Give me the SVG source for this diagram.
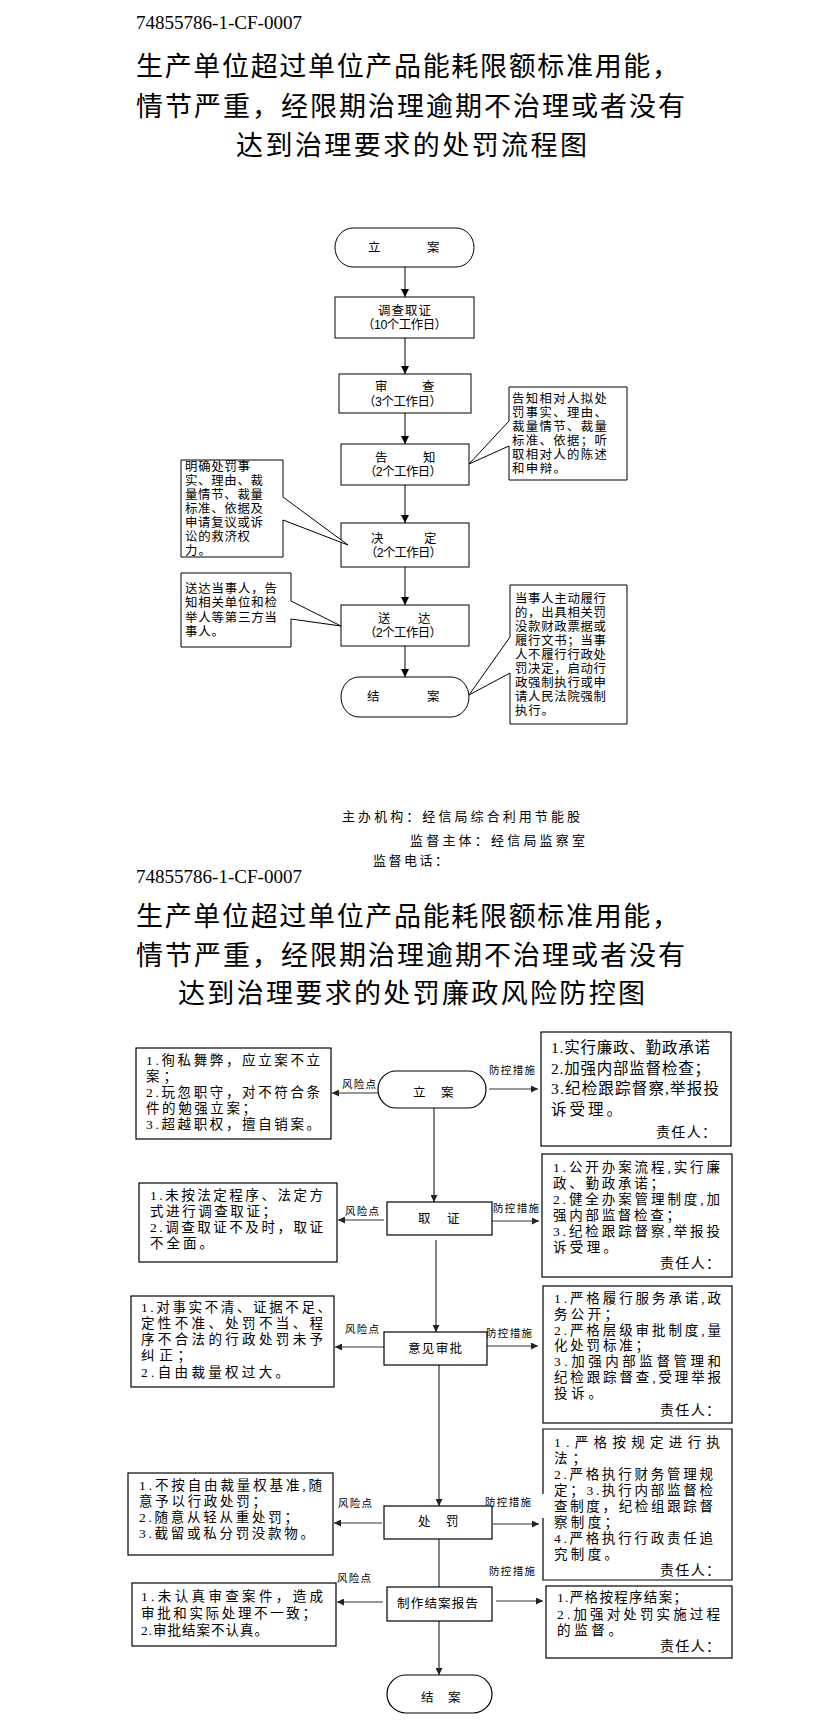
<svg xmlns="http://www.w3.org/2000/svg" width="823" height="1729" viewBox="0 0 823 1729">
<style>
text{font-family:"Noto Sans CJK SC","Noto Sans",sans-serif;fill:#000}
.id{font-family:"Liberation Serif",serif;font-size:19px}
.ttl{font-size:27px}
.f13{font-family:"Liberation Sans","Noto Sans CJK SC",sans-serif;font-size:12.4px}
.ft{font-size:13px}
.s2{font-family:"Liberation Serif","Noto Sans CJK SC",sans-serif}
.b2{font-size:13.5px}
.big{font-size:15.5px}
.rp{font-size:14px}
.lb{font-size:10.5px}
.c2{font-size:12.5px}
.box{fill:#fff;stroke:#000;stroke-width:1}
.box2{fill:#fff;stroke:#000;stroke-width:1.2}
.ln{stroke:#000;stroke-width:1;fill:none}
.ln2{stroke:#333;stroke-width:1.2;fill:none}
</style>
<defs>
<marker id="a1" markerWidth="8" markerHeight="8" refX="8" refY="4" orient="auto" markerUnits="userSpaceOnUse"><path d="M0,0 L8,4 L0,8 z" fill="#000"/></marker>
<marker id="a2" markerWidth="7" markerHeight="7" refX="7" refY="3.5" orient="auto" markerUnits="userSpaceOnUse"><path d="M0,0 L7,3.5 L0,7 z" fill="#222"/></marker>
</defs>
<rect width="823" height="1729" fill="#fff"/>

<g id="header1">
<text class="id" x="136" y="28.8" textLength="166" lengthAdjust="spacingAndGlyphs">74855786-1-CF-0007</text>
<text class="ttl" x="136" y="76.2" textLength="543" lengthAdjust="spacing">生产单位超过单位产品能耗限额标准用能，</text>
<text class="ttl" x="136" y="116.4" textLength="549" lengthAdjust="spacing">情节严重，经限期治理逾期不治理或者没有</text>
<text class="ttl" x="236" y="154.7" textLength="351" lengthAdjust="spacing">达到治理要求的处罚流程图</text>
</g>

<g id="connectors1">
<line class="ln" x1="405" y1="267" x2="405" y2="297" marker-end="url(#a1)"/>
<line class="ln" x1="405" y1="338" x2="405" y2="374" marker-end="url(#a1)"/>
<line class="ln" x1="405" y1="413" x2="405" y2="444" marker-end="url(#a1)"/>
<line class="ln" x1="405" y1="485" x2="405" y2="523" marker-end="url(#a1)"/>
<line class="ln" x1="405" y1="567" x2="405" y2="605" marker-end="url(#a1)"/>
<line class="ln" x1="405" y1="646" x2="405" y2="677" marker-end="url(#a1)"/>
</g>

<g id="n1-start">
<rect class="box" x="335" y="228" width="139" height="39" rx="18" ry="19.5"/>
<text class="f13" x="368 427" y="252">立案</text>
</g>
<g id="n1-investigate">
<rect class="box" x="335" y="297" width="139" height="41"/>
<text class="f13" x="378" y="315" textLength="53" lengthAdjust="spacing">调查取证</text>
<text class="f13" x="362" y="329" textLength="85" lengthAdjust="spacing">（10个工作日）</text>
</g>
<g id="n1-review">
<rect class="box" x="339" y="374" width="132" height="39"/>
<text class="f13" x="375 422" y="391">审查</text>
<text class="f13" x="363" y="405.5" textLength="79" lengthAdjust="spacing">（3个工作日）</text>
</g>
<g id="n1-notify">
<rect class="box" x="341" y="444" width="128" height="41"/>
<text class="f13" x="375 423" y="462">告知</text>
<text class="f13" x="364" y="476" textLength="78" lengthAdjust="spacing">（2个工作日）</text>
</g>
<g id="n1-decide">
<rect class="box" x="341" y="523" width="128" height="44"/>
<text class="f13" x="371 424" y="543">决定</text>
<text class="f13" x="365" y="557" textLength="77" lengthAdjust="spacing">（2个工作日）</text>
</g>
<g id="n1-deliver">
<rect class="box" x="341" y="605" width="128" height="41"/>
<text class="f13" x="378 418" y="622.5">送达</text>
<text class="f13" x="364" y="636.5" textLength="78" lengthAdjust="spacing">（2个工作日）</text>
</g>
<g id="n1-end">
<rect class="box" x="341" y="677" width="128" height="40" rx="18" ry="20"/>
<text class="f13" x="367 427" y="700.5">结案</text>
</g>

<g id="note-notify">
<path class="box" d="M509,421 L469,464 L509,446 L509,480 L627,480 L627,387 L509,387 Z"/>
<text class="f13" x="512" y="402.5" textLength="95" lengthAdjust="spacing">告知相对人拟处</text>
<text class="f13" x="512" y="416.5" textLength="95" lengthAdjust="spacing">罚事实、理由、</text>
<text class="f13" x="512" y="430.5" textLength="95" lengthAdjust="spacing">裁量情节、裁量</text>
<text class="f13" x="512" y="444.5" textLength="95" lengthAdjust="spacing">标准、依据；听</text>
<text class="f13" x="512" y="458.5" textLength="95" lengthAdjust="spacing">取相对人的陈述</text>
<text class="f13" x="512" y="472.5" textLength="54" lengthAdjust="spacing">和申辩。</text>
</g>
<g id="note-decide">
<path class="box" d="M283,497 L348,545 L283,520 L283,557 L181,557 L181,460 L283,460 Z"/>
<text class="f13" x="185" y="470.5" textLength="65" lengthAdjust="spacing">明确处罚事</text>
<text class="f13" x="185" y="484.5" textLength="78" lengthAdjust="spacing">实、理由、裁</text>
<text class="f13" x="185" y="498.5" textLength="78" lengthAdjust="spacing">量情节、裁量</text>
<text class="f13" x="185" y="512.5" textLength="78" lengthAdjust="spacing">标准、依据及</text>
<text class="f13" x="185" y="526.5" textLength="78" lengthAdjust="spacing">申请复议或诉</text>
<text class="f13" x="185" y="540.5" textLength="65" lengthAdjust="spacing">讼的救济权</text>
<text class="f13" x="185" y="554.5" textLength="26" lengthAdjust="spacing">力。</text>
</g>
<g id="note-deliver">
<path class="box" d="M291,601 L341,626 L291,619 L291,647 L181,647 L181,573 L291,573 Z"/>
<text class="f13" x="185" y="592.5" textLength="92" lengthAdjust="spacing">送达当事人，告</text>
<text class="f13" x="185" y="607" textLength="92" lengthAdjust="spacing">知相关单位和检</text>
<text class="f13" x="185" y="621.5" textLength="92" lengthAdjust="spacing">举人等第三方当</text>
<text class="f13" x="185" y="635.5" textLength="39" lengthAdjust="spacing">事人。</text>
</g>
<g id="note-end">
<path class="box" d="M510,637 L469,695 L510,673 L510,724 L627,724 L627,585 L510,585 Z"/>
<text class="f13" x="515" y="602.5" textLength="91" lengthAdjust="spacing">当事人主动履行</text>
<text class="f13" x="515" y="616.5" textLength="91" lengthAdjust="spacing">的，出具相关罚</text>
<text class="f13" x="515" y="630.5" textLength="91" lengthAdjust="spacing">没款财政票据或</text>
<text class="f13" x="515" y="644.5" textLength="91" lengthAdjust="spacing">履行文书；当事</text>
<text class="f13" x="515" y="658.5" textLength="91" lengthAdjust="spacing">人不履行行政处</text>
<text class="f13" x="515" y="672.5" textLength="91" lengthAdjust="spacing">罚决定，启动行</text>
<text class="f13" x="515" y="686.5" textLength="91" lengthAdjust="spacing">政强制执行或申</text>
<text class="f13" x="515" y="700.5" textLength="91" lengthAdjust="spacing">请人民法院强制</text>
<text class="f13" x="515" y="714.5" textLength="39" lengthAdjust="spacing">执行。</text>
</g>

<g id="footer">
<text class="ft" x="342" y="820.7" textLength="238" lengthAdjust="spacing">主办机构：经信局综合利用节能股</text>
<text class="ft" x="410" y="844.7" textLength="175" lengthAdjust="spacing">监督主体：经信局监察室</text>
<text class="ft" x="373" y="865.2" textLength="75" lengthAdjust="spacing">监督电话：</text>
</g>

<g id="header2">
<text class="id" x="136" y="883" textLength="166" lengthAdjust="spacingAndGlyphs">74855786-1-CF-0007</text>
<text class="ttl" x="136" y="925.7" textLength="543" lengthAdjust="spacing">生产单位超过单位产品能耗限额标准用能，</text>
<text class="ttl" x="136" y="964.7" textLength="549" lengthAdjust="spacing">情节严重，经限期治理逾期不治理或者没有</text>
<text class="ttl" x="178" y="1002.7" textLength="467" lengthAdjust="spacing">达到治理要求的处罚廉政风险防控图</text>
</g>

<g id="connectors2">
<line class="ln2" x1="434" y1="1108" x2="434" y2="1202" marker-end="url(#a2)"/>
<line class="ln2" x1="436" y1="1240" x2="436" y2="1332" marker-end="url(#a2)"/>
<line class="ln2" x1="439" y1="1365" x2="439" y2="1506" marker-end="url(#a2)"/>
<line class="ln2" x1="439" y1="1539" x2="439" y2="1587"/>
<line class="ln2" x1="439" y1="1621" x2="439" y2="1675" marker-end="url(#a2)"/>
<line class="ln2" x1="378" y1="1093" x2="332" y2="1093" marker-end="url(#a2)"/>
<line class="ln2" x1="489" y1="1089" x2="538" y2="1089" marker-end="url(#a2)"/>
<line class="ln2" x1="384" y1="1220" x2="338" y2="1220" marker-end="url(#a2)"/>
<line class="ln2" x1="492" y1="1221" x2="539" y2="1221" marker-end="url(#a2)"/>
<line class="ln2" x1="384" y1="1347" x2="335" y2="1347" marker-end="url(#a2)"/>
<line class="ln2" x1="487" y1="1346" x2="538" y2="1346" marker-end="url(#a2)"/>
<line class="ln2" x1="382" y1="1523" x2="334" y2="1523" marker-end="url(#a2)"/>
<line class="ln2" x1="493" y1="1524" x2="539" y2="1524" marker-end="url(#a2)"/>
<line class="ln2" x1="383" y1="1602" x2="337" y2="1602" marker-end="url(#a2)"/>
<line class="ln2" x1="496" y1="1601" x2="543" y2="1601" marker-end="url(#a2)"/>
<text class="s2 lb" x="342" y="1087.8" textLength="34" lengthAdjust="spacing">风险点</text>
<text class="s2 lb" x="489" y="1073.8" textLength="46" lengthAdjust="spacing">防控措施</text>
<text class="s2 lb" x="345" y="1214.8" textLength="34" lengthAdjust="spacing">风险点</text>
<text class="s2 lb" x="493" y="1211.8" textLength="46" lengthAdjust="spacing">防控措施</text>
<text class="s2 lb" x="345" y="1332.8" textLength="34" lengthAdjust="spacing">风险点</text>
<text class="s2 lb" x="486" y="1336.8" textLength="46" lengthAdjust="spacing">防控措施</text>
<text class="s2 lb" x="338" y="1506.8" textLength="34" lengthAdjust="spacing">风险点</text>
<text class="s2 lb" x="485" y="1505.8" textLength="46" lengthAdjust="spacing">防控措施</text>
<text class="s2 lb" x="337" y="1581.8" textLength="34" lengthAdjust="spacing">风险点</text>
<text class="s2 lb" x="489" y="1574.8" textLength="46" lengthAdjust="spacing">防控措施</text>
</g>

<g id="n2-start">
<rect class="box2" x="378" y="1071" width="108" height="37" rx="18" ry="18.5"/>
<text class="s2 c2" x="413 441" y="1096.5">立案</text>
</g>
<g id="n2-evidence">
<rect class="box2" x="387" y="1202" width="105" height="33"/>
<text class="s2 c2" x="418 447" y="1222.5">取证</text>
</g>
<g id="n2-approve">
<rect class="box2" x="384" y="1332" width="103" height="33"/>
<text class="s2 c2" x="408" y="1352.5" textLength="54" lengthAdjust="spacing">意见审批</text>
</g>
<g id="n2-penalty">
<rect class="box2" x="384" y="1506" width="108" height="33"/>
<text class="s2 c2" x="418 446" y="1525.5">处罚</text>
</g>
<g id="n2-report">
<rect class="box2" x="387" y="1587" width="105" height="34"/>
<text class="s2 c2" x="397" y="1607.5" textLength="81" lengthAdjust="spacing">制作结案报告</text>
</g>
<g id="n2-end">
<rect class="box2" x="387" y="1675" width="105" height="38" rx="19" ry="19"/>
<text class="s2 c2" x="421 448" y="1701.5">结案</text>
</g>

<g id="risk1">
<rect class="box2" x="136" y="1048" width="195" height="91"/>
<text class="s2 b2" x="146" y="1065.4" textLength="174" lengthAdjust="spacing">1.徇私舞弊，应立案不立</text>
<text class="s2 b2" x="146" y="1081.4" textLength="31" lengthAdjust="spacing">案；</text>
<text class="s2 b2" x="146" y="1097.4" textLength="174" lengthAdjust="spacing">2.玩忽职守，对不符合条</text>
<text class="s2 b2" x="146" y="1113.4" textLength="110" lengthAdjust="spacing">件的勉强立案；</text>
<text class="s2 b2" x="146" y="1129.4" textLength="174" lengthAdjust="spacing">3.超越职权，擅自销案。</text>
</g>
<g id="ctrl1">
<rect class="box2" x="541" y="1032" width="190" height="114"/>
<text class="s2 big" x="551" y="1052.6" textLength="159" lengthAdjust="spacing">1.实行廉政、勤政承诺</text>
<text class="s2 big" x="551" y="1073.6" textLength="159" lengthAdjust="spacing">2.加强内部监督检查；</text>
<text class="s2 big" x="551" y="1093.6" textLength="168" lengthAdjust="spacing">3.纪检跟踪督察,举报投</text>
<text class="s2 big" x="551" y="1114.6" textLength="71" lengthAdjust="spacing">诉受理。</text>
<text class="s2 rp" x="656" y="1137" textLength="60" lengthAdjust="spacing">责任人：</text>
</g>

<g id="risk2">
<rect class="box2" x="139" y="1183" width="198" height="79"/>
<text class="s2 b2" x="150" y="1199.9" textLength="173" lengthAdjust="spacing">1.未按法定程序、法定方</text>
<text class="s2 b2" x="150" y="1215.9" textLength="126" lengthAdjust="spacing">式进行调查取证；</text>
<text class="s2 b2" x="150" y="1231.9" textLength="173" lengthAdjust="spacing">2.调查取证不及时，取证</text>
<text class="s2 b2" x="150" y="1247.9" textLength="63" lengthAdjust="spacing">不全面。</text>
</g>
<g id="ctrl2">
<rect class="box2" x="542" y="1154" width="190" height="123"/>
<text class="s2 b2" x="553" y="1171.6" textLength="167" lengthAdjust="spacing">1.公开办案流程,实行廉</text>
<text class="s2 b2" x="553" y="1187.6" textLength="111" lengthAdjust="spacing">政、勤政承诺；</text>
<text class="s2 b2" x="553" y="1203.6" textLength="167" lengthAdjust="spacing">2.健全办案管理制度,加</text>
<text class="s2 b2" x="553" y="1219.6" textLength="127" lengthAdjust="spacing">强内部监督检查；</text>
<text class="s2 b2" x="553" y="1235.6" textLength="167" lengthAdjust="spacing">3.纪检跟踪督察,举报投</text>
<text class="s2 b2" x="553" y="1251.6" textLength="64" lengthAdjust="spacing">诉受理。</text>
<text class="s2 rp" x="660" y="1267.6" textLength="60" lengthAdjust="spacing">责任人：</text>
</g>

<g id="risk3">
<rect class="box2" x="131" y="1296" width="203" height="91"/>
<text class="s2 b2" x="141" y="1311.9" textLength="190" lengthAdjust="spacing">1.对事实不清、证据不足、</text>
<text class="s2 b2" x="141" y="1327.9" textLength="182" lengthAdjust="spacing">定性不准、处罚不当、程</text>
<text class="s2 b2" x="141" y="1343.9" textLength="182" lengthAdjust="spacing">序不合法的行政处罚未予</text>
<text class="s2 b2" x="141" y="1360.4" textLength="50" lengthAdjust="spacing">纠正；</text>
<text class="s2 b2" x="141" y="1376.9" textLength="148" lengthAdjust="spacing">2.自由裁量权过大。</text>
</g>
<g id="ctrl3">
<rect class="box2" x="543" y="1286" width="189" height="137"/>
<text class="s2 b2" x="554" y="1302.9" textLength="167" lengthAdjust="spacing">1.严格履行服务承诺,政</text>
<text class="s2 b2" x="554" y="1318.7" textLength="64" lengthAdjust="spacing">务公开；</text>
<text class="s2 b2" x="554" y="1334.6" textLength="167" lengthAdjust="spacing">2.严格层级审批制度,量</text>
<text class="s2 b2" x="554" y="1350.4" textLength="95" lengthAdjust="spacing">化处罚标准；</text>
<text class="s2 b2" x="554" y="1366.2" textLength="167" lengthAdjust="spacing">3.加强内部监督管理和</text>
<text class="s2 b2" x="554" y="1382.1" textLength="167" lengthAdjust="spacing">纪检跟踪督查,受理举报</text>
<text class="s2 b2" x="554" y="1397.9" textLength="48" lengthAdjust="spacing">投诉。</text>
<text class="s2 rp" x="660" y="1415" textLength="60" lengthAdjust="spacing">责任人：</text>
</g>

<g id="risk4">
<rect class="box2" x="128" y="1473" width="205" height="82"/>
<text class="s2 b2" x="139" y="1489.9" textLength="183" lengthAdjust="spacing">1.不按自由裁量权基准,随</text>
<text class="s2 b2" x="139" y="1505.9" textLength="127" lengthAdjust="spacing">意予以行政处罚；</text>
<text class="s2 b2" x="139" y="1521.9" textLength="159" lengthAdjust="spacing">2.随意从轻从重处罚；</text>
<text class="s2 b2" x="139" y="1537.9" textLength="175" lengthAdjust="spacing">3.截留或私分罚没款物。</text>
</g>
<g id="ctrl4">
<path class="box2" d="M543,1494 L543,1429 L732,1429 L732,1580 L543,1580 L543,1518"/>
<text class="s2 b2" x="554" y="1446.9" textLength="166" lengthAdjust="spacing">1.严格按规定进行执</text>
<text class="s2 b2" x="554" y="1462.9" textLength="32" lengthAdjust="spacing">法；</text>
<text class="s2 b2" x="554" y="1478.9" textLength="159" lengthAdjust="spacing">2.严格执行财务管理规</text>
<text class="s2 b2" x="554" y="1494.9" textLength="159" lengthAdjust="spacing">定；3.执行内部监督检</text>
<text class="s2 b2" x="554" y="1510.9" textLength="159" lengthAdjust="spacing">查制度，纪检组跟踪督</text>
<text class="s2 b2" x="554" y="1526.9" textLength="64" lengthAdjust="spacing">察制度；</text>
<text class="s2 b2" x="554" y="1542.9" textLength="159" lengthAdjust="spacing">4.严格执行行政责任追</text>
<text class="s2 b2" x="554" y="1558.9" textLength="64" lengthAdjust="spacing">究制度。</text>
<text class="s2 rp" x="660" y="1575" textLength="60" lengthAdjust="spacing">责任人：</text>
</g>

<g id="risk5">
<rect class="box2" x="132" y="1583" width="204" height="63"/>
<text class="s2 b2" x="141" y="1600.9" textLength="182" lengthAdjust="spacing">1.未认真审查案件，造成</text>
<text class="s2 b2" x="141" y="1617.9" textLength="175" lengthAdjust="spacing">审批和实际处理不一致；</text>
<text class="s2 b2" x="141" y="1634.9" textLength="127" lengthAdjust="spacing">2.审批结案不认真。</text>
</g>
<g id="ctrl5">
<rect class="box2" x="546" y="1586" width="186" height="72"/>
<text class="s2 b2" x="557" y="1601.9" textLength="130" lengthAdjust="spacing">1.严格按程序结案；</text>
<text class="s2 b2" x="557" y="1618.9" textLength="163" lengthAdjust="spacing">2.加强对处罚实施过程</text>
<text class="s2 b2" x="557" y="1634.9" textLength="65" lengthAdjust="spacing">的监督。</text>
<text class="s2 rp" x="660" y="1651" textLength="60" lengthAdjust="spacing">责任人：</text>
</g>
</svg>
